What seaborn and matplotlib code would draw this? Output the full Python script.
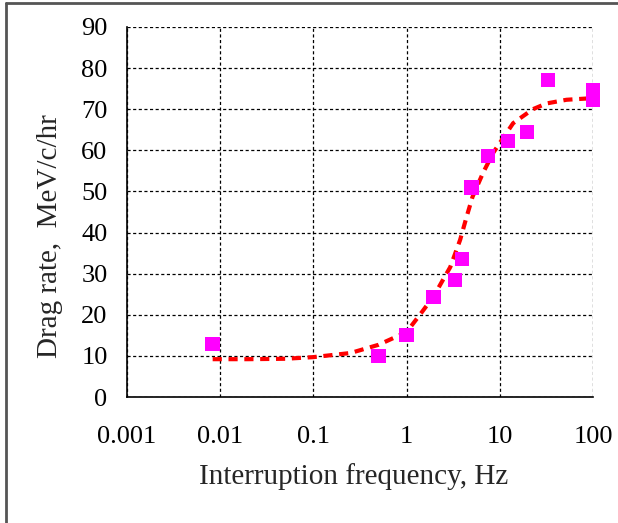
import matplotlib
matplotlib.use("Agg")
import matplotlib.pyplot as plt
import seaborn as sns
import pandas as pd
from matplotlib.lines import Line2D
from matplotlib.ticker import FixedLocator, FixedFormatter, NullLocator

# measured points
freq_hz = [0.0083, 0.5, 1.0, 1.95, 3.3, 3.95, 4.95, 7.5, 12.3, 19.6, 33.0, 100.0, 100.0]
drag_rate = [12.9, 10.0, 15.1, 24.3, 28.5, 33.6, 50.9, 58.6, 62.3, 64.5, 77.1, 74.6, 72.4]

# fitted curve
fit_freq = [0.0083, 0.02, 0.05, 0.1, 0.25, 0.5, 1.0, 1.41, 1.95, 2.94, 3.75, 4.4, 5.1,
            6.6, 8.5, 10.0, 13.9, 22.6, 31.7, 52.0, 85.0, 100.0]
fit_rate = [9.2, 9.2, 9.3, 9.7, 10.7, 12.7, 15.8, 20.2, 24.5, 31.6, 38.2, 43.8, 48.7,
            54.5, 59.4, 61.8, 66.6, 70.0, 71.4, 72.3, 72.6, 72.6]

x_ticks = [0.001, 0.01, 0.1, 1, 10, 100]
x_labels = ["0.001", "0.01", "0.1", "1", "10", "100"]
y_ticks = list(range(0, 100, 10))

sns.set_style("white")
plt.rcParams["font.family"] = ["Liberation Serif", "DejaVu Serif"]

pts = pd.DataFrame({"freq": freq_hz, "rate": drag_rate})
fit = pd.DataFrame({"freq": fit_freq, "rate": fit_rate})

fig = plt.figure(figsize=(6.18, 5.23), dpi=100)
ax = fig.add_axes([127 / 618, 1 - 397 / 523, (593 - 127) / 618, (397 - 27) / 523])

ax.set_xscale("log")
ax.set_xlim(0.001, 100)
ax.set_ylim(0, 90)

sns.lineplot(data=fit, x="freq", y="rate", ax=ax, color="#ff0000", lw=3,
             linestyle=(0, (2.2, 1.6)), zorder=3, sort=False)
sns.scatterplot(data=pts, x="freq", y="rate", ax=ax, marker="s", s=110,
                color="#ff00ff", edgecolor="none", zorder=4, clip_on=False)

ax.xaxis.set_major_locator(FixedLocator(x_ticks))
ax.xaxis.set_major_formatter(FixedFormatter(x_labels))
ax.xaxis.set_minor_locator(NullLocator())
ax.set_yticks(y_ticks)

ax.grid(True, which="major", color="black", linestyle=(0, (2.5, 2)), lw=0.9)
for s in ["top", "right"]:
    ax.spines[s].set_visible(False)
for s in ["left", "bottom"]:
    ax.spines[s].set_color("black")
    ax.spines[s].set_linewidth(1.2)

ax.tick_params(axis="both", direction="out", length=6, width=1, color="black",
               labelsize=19, labelcolor="black")
ax.tick_params(axis="x", pad=15)
ax.tick_params(axis="y", pad=8)

ax.set_xlabel("Interruption frequency, Hz", fontsize=21)
ax.set_ylabel("Drag rate,  MeV/c/hr", fontsize=21)
ax.xaxis.set_label_coords(0.487, -0.178)
ax.yaxis.set_label_coords(-0.137, 0.435)

# picture frame (only left and top edges are visible)
fig.add_artist(Line2D([6 / 618, 6 / 618], [0, 1 - 3 / 523], color="#555555", lw=2,
                      transform=fig.transFigure))
fig.add_artist(Line2D([6 / 618, 1], [1 - 3 / 523, 1 - 3 / 523], color="#555555", lw=2,
                      transform=fig.transFigure))

fig.savefig("out.png", dpi=100)
